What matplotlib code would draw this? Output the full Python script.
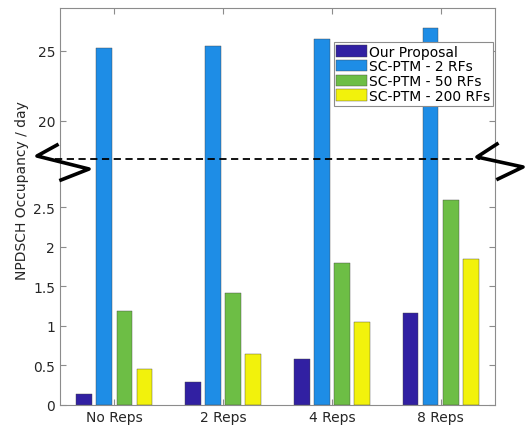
import numpy as np
import matplotlib
matplotlib.use("Agg")
import matplotlib.pyplot as plt
from matplotlib.lines import Line2D

# data
categories = ["No Reps", "2 Reps", "4 Reps", "8 Reps"]
series_names = ["Our Proposal", "SC-PTM - 2 RFs", "SC-PTM - 50 RFs", "SC-PTM - 200 RFs"]
our_proposal = [0.14, 0.29, 0.58, 1.16]
sc_ptm_2 = [25.19, 25.36, 25.81, 26.64]
sc_ptm_50 = [1.19, 1.41, 1.79, 2.59]
sc_ptm_200 = [0.45, 0.65, 1.05, 1.85]

colors = ["#3120A2", "#1E8DE6", "#6DBE45", "#F2F20C"]
all_series = [our_proposal, sc_ptm_2, sc_ptm_50, sc_ptm_200]

fig = plt.figure(figsize=(5.26, 4.31), dpi=100)
left, right = 60 / 526, 495 / 526
y_bot, y_brk, y_top = 1 - 406 / 431, 1 - 160 / 431, 1 - 9 / 431
ax_lo = fig.add_axes([left, y_bot, right - left, y_brk - y_bot])
ax_hi = fig.add_axes([left, y_brk, right - left, y_top - y_brk], sharex=ax_lo)

x = np.arange(1, len(categories) + 1)
step, width = 0.185, 0.145
handles = []
for ax in (ax_lo, ax_hi):
    for i, vals in enumerate(all_series):
        b = ax.bar(x + (i - 1.5) * step, vals, width, color=colors[i],
                   edgecolor="#444444", linewidth=0.3, label=series_names[i])
        if ax is ax_hi:
            handles.append(b)

ax_lo.set_xlim(0.5, 4.5)
ax_lo.set_ylim(0, 3.11)
ax_hi.set_ylim(17.26, 28.05)
ax_lo.set_yticks([0, 0.5, 1, 1.5, 2, 2.5])
ax_lo.set_yticklabels(["0", "0.5", "1", "1.5", "2", "2.5"])
ax_hi.set_yticks([20, 25])
ax_lo.set_xticks(x)
ax_lo.set_xticklabels(categories)

spine_col = "#8c8c8c"
for ax in (ax_lo, ax_hi):
    for s in ax.spines.values():
        s.set_color(spine_col)
        s.set_linewidth(0.8)
    ax.tick_params(direction="in", colors=spine_col, labelcolor="#262626",
                   labelsize=10, length=4, right=True, top=True)
ax_lo.spines["top"].set_visible(False)
ax_hi.spines["bottom"].set_visible(False)
ax_lo.tick_params(top=False)
ax_hi.tick_params(bottom=False, labelbottom=False)

fig.text(22 / 526, 1 - 191 / 431, "NPDSCH Occupancy / day", rotation=90,
         ha="center", va="center", fontsize=10, color="#262626")

# broken-axis marker: dashed line and zigzags (pixel coords)
def px(xs, ys):
    return [v / 526 for v in xs], [1 - v / 431 for v in ys]

fig.add_artist(Line2D(*px([55, 480], [160, 160]), color="black",
                      linestyle=(0, (4, 2.5)), linewidth=1.3))
fig.add_artist(Line2D(*px([57, 37, 89, 61], [146, 157, 170, 181]),
                      color="black", linewidth=2.6))
fig.add_artist(Line2D(*px([497, 477, 523, 498], [145, 158, 168, 180]),
                      color="black", linewidth=2.6))

leg = ax_hi.legend(handles, series_names, loc="upper right",
                   bbox_to_anchor=(493 / 526, 1 - 43 / 431),
                   bbox_transform=fig.transFigure, fontsize=10,
                   frameon=True, fancybox=False, framealpha=1, borderpad=0.2,
                   handlelength=2.2, handleheight=0.9, handletextpad=0.15,
                   labelspacing=0.05, borderaxespad=0)
leg.get_frame().set_edgecolor("#8c8c8c")
leg.get_frame().set_linewidth(0.8)

fig.savefig("out.png", dpi=100)
